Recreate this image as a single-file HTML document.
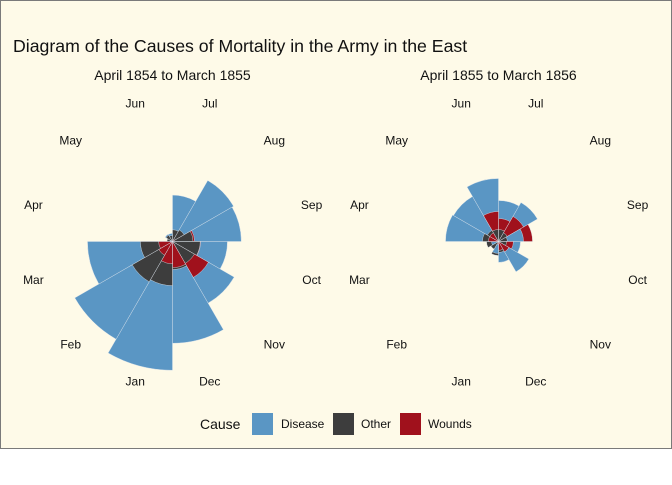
<!DOCTYPE html>
<html><head><meta charset="utf-8"><style>
html,body{margin:0;padding:0;background:#fff;}
svg text{font-family:"Liberation Sans",Arial,sans-serif;}
</style></head><body>
<svg id="chart" width="672" height="480" viewBox="0 0 672 480" xmlns="http://www.w3.org/2000/svg">
<rect x="0.5" y="0.5" width="671" height="448" fill="#fefae8" stroke="#7a7a7a" stroke-width="1"/>
<text x="13" y="52" font-size="17.7" fill="#111">Diagram of the Causes of Mortality in the Army in the East</text>
<text x="172.5" y="80" font-size="14" text-anchor="middle" fill="#111">April 1854 to March 1855</text>
<text x="498.5" y="80" font-size="14" text-anchor="middle" fill="#111">April 1855 to March 1856</text>
<g id="panels"></g>
<g>
<text x="200" y="429" font-size="14" fill="#111">Cause</text>
<rect x="252" y="413" width="21" height="22" fill="#5a96c4"/>
<text x="281" y="428" font-size="12" fill="#111">Disease</text>
<rect x="333" y="413" width="21" height="22" fill="#3d3d3d"/>
<text x="361" y="428" font-size="12" fill="#111">Other</text>
<rect x="400" y="413" width="21" height="22" fill="#a0111c"/>
<text x="428" y="428" font-size="12" fill="#111">Wounds</text>
</g>
</svg>
<script>
// months clockwise from top
const months = ["Jul","Aug","Sep","Oct","Nov","Dec","Jan","Feb","Mar","Apr","May","Jun"];
// panel 1: April 1854 - March 1855 (same month order)
const disease1 = [359,828,788,503,844,1725,2761,2120,1205,1,12,11];
const other1   = [23,30,70,128,106,131,324,361,172,5,9,6];
const wounds1  = [0,1,81,132,287,114,83,42,32,0,0,0];
// panel 2: April 1855 - March 1856
const disease2 = [280,337,104,81,204,73,24,13,8,468,450,661];
const other2   = [24,17,13,11,24,20,33,13,24,43,28,24];
const wounds2  = [88,140,193,37,24,13,1.5,0,0,17,17,150];

const K = 2.45;
function rScale(v){ return K*Math.sqrt(Math.max(0,v)); }
function angle(i){ return i*30; } // degrees clockwise from top
const NS="http://www.w3.org/2000/svg";
const g=document.getElementById('panels');

function wedge(cx,cy,r,a0,a1){
  const t0=(a0)*Math.PI/180, t1=(a1)*Math.PI/180;
  const x0=cx+r*Math.sin(t0), y0=cy-r*Math.cos(t0);
  const x1=cx+r*Math.sin(t1), y1=cy-r*Math.cos(t1);
  return `M${cx},${cy}L${x0},${y0}A${r},${r} 0 0 1 ${x1},${y1}Z`;
}
function drawPanel(cx,cy,series,tag){
  months.forEach((m,i)=>{
    const items=series.map(s=>({name:s.name,color:s.color,v:s.vals[i]}));
    items.sort((a,b)=>b.v-a.v);
    items.forEach(s=>{
      const r=rScale(s.v);
      if(r<=0) return;
      const p=document.createElementNS(NS,'path');
      p.setAttribute('d',wedge(cx,cy,r,angle(i),angle(i)+30));
      p.setAttribute('fill',s.color);
      p.setAttribute('stroke','#dfe6ee');
      p.setAttribute('stroke-width','0.4');
      
      
      g.appendChild(p);
    });
  });
  months.forEach((m,i)=>{
    const t=(angle(i)+15)*Math.PI/180;
    const tx=document.createElementNS(NS,'text');
    tx.setAttribute('x',cx+144*Math.sin(t));
    tx.setAttribute('y',cy+1-144*Math.cos(t)+4);
    tx.setAttribute('text-anchor','middle');
    tx.setAttribute('font-size','12');
    tx.setAttribute('fill','#111');
    tx.textContent=m;
    
    
    g.appendChild(tx);
  });
}
drawPanel(172.5,241.5,[
  {name:'disease',color:'#5a96c4',vals:disease1},
  {name:'other',color:'#3d3d3d',vals:other1},
  {name:'wounds',color:'#a0111c',vals:wounds1}],'1854');
drawPanel(498.5,241.5,[
  {name:'disease',color:'#5a96c4',vals:disease2},
  {name:'other',color:'#3d3d3d',vals:other2},
  {name:'wounds',color:'#a0111c',vals:wounds2}],'1855');
</script>
</body></html>
